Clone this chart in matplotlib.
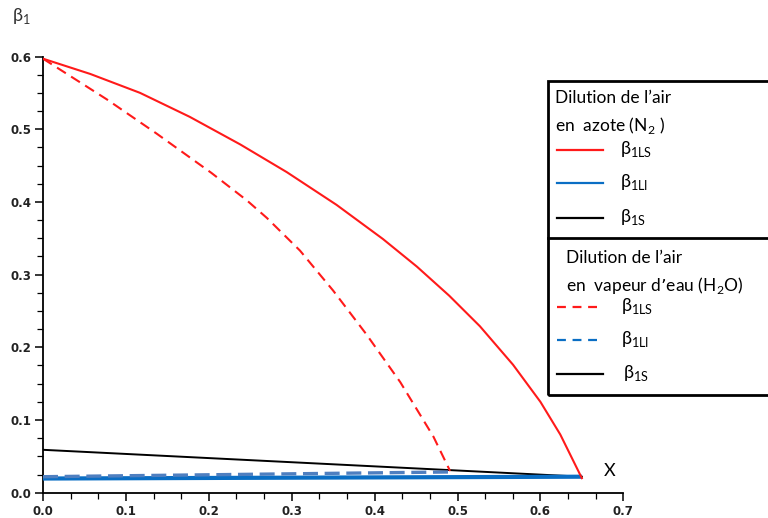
import matplotlib
matplotlib.use("Agg")
import matplotlib.pyplot as plt
from matplotlib.lines import Line2D
from matplotlib.patches import Rectangle
from matplotlib.ticker import MultipleLocator

# ---- data ----
x_ls_n2 = [0.0, 0.057, 0.117, 0.177, 0.238, 0.294, 0.354, 0.41, 0.451, 0.49, 0.527, 0.567, 0.60, 0.624, 0.65]
y_ls_n2 = [0.597, 0.576, 0.550, 0.517, 0.479, 0.441, 0.396, 0.349, 0.311, 0.271, 0.229, 0.176, 0.125, 0.080, 0.020]

x_ls_h2o = [0.0, 0.077, 0.137, 0.203, 0.246, 0.27, 0.31, 0.35, 0.39, 0.431, 0.471, 0.491]
y_ls_h2o = [0.597, 0.541, 0.494, 0.440, 0.402, 0.378, 0.333, 0.278, 0.218, 0.152, 0.077, 0.030]

x_li_n2 = [0.0, 0.65]
y_li_n2 = [0.0195, 0.022]

x_li_h2o = [0.0, 0.49]
y_li_h2o = [0.022, 0.0285]

x_s = [0.0, 0.65]
y_s = [0.059, 0.022]

x_ticks = [0.0, 0.1, 0.2, 0.3, 0.4, 0.5, 0.6, 0.7]
y_ticks = [0.0, 0.1, 0.2, 0.3, 0.4, 0.5, 0.6]
x_ticklabels = ["0.0", "0.1", "0.2", "0.3", "0.4", "0.5", "0.6", "0.7"]
y_ticklabels = ["0.0", "0.1", "0.2", "0.3", "0.4", "0.5", "0.6"]

RED = "#ff1a1a"
BLUE = "#0a6ec4"
BLUE_D = "#4f7fc0"

W, H = 768, 518
fig = plt.figure(figsize=(W / 100, H / 100), dpi=100)

def fx(px):
    return px / W

def fy(py):
    return 1 - py / H

ax = fig.add_axes([fx(43), fy(492.7), (623.3 - 43) / W, (492.7 - 56.5) / H])
ax.set_xlim(0, 0.7)
ax.set_ylim(0, 0.6)

ax.plot(x_s, y_s, color="black", lw=1.4, zorder=3)
ax.plot(x_li_n2, y_li_n2, color=BLUE, lw=3.0, zorder=4, solid_capstyle="butt")
ax.plot(x_li_h2o, y_li_h2o, color=BLUE_D, lw=2.4, ls=(0, (4.5, 2)), zorder=4)
ax.plot(x_ls_n2, y_ls_n2, color=RED, lw=1.5, zorder=5, solid_joinstyle="round")
ax.plot(x_ls_h2o, y_ls_h2o, color=RED, lw=1.5, ls=(0, (5, 3)), zorder=5)

for s in ["top", "right"]:
    ax.spines[s].set_visible(False)
for s in ["left", "bottom"]:
    ax.spines[s].set_linewidth(1.3)
    ax.spines[s].set_color("black")

ax.set_xticks(x_ticks)
ax.set_xticklabels(x_ticklabels)
ax.set_yticks(y_ticks)
ax.set_yticklabels(y_ticklabels)
ax.xaxis.set_minor_locator(MultipleLocator(0.1 / 3))
ax.yaxis.set_minor_locator(MultipleLocator(0.025))
ax.tick_params(which="major", length=6, width=1.1, direction="out", labelsize=8.5,
               labelcolor="#222222", pad=2.5)
ax.tick_params(which="minor", length=4, width=0.9, direction="out")
for lab in ax.get_xticklabels() + ax.get_yticklabels():
    lab.set_fontweight("bold")
    lab.set_fontfamily("DejaVu Sans")

# axis labels
fig.text(fx(12), fy(16), r"β$_{\mathregular{1}}$", fontsize=13, color="#333333",
         ha="left", va="center", family="Lato")
fig.text(fx(610), fy(471), "X", fontsize=13, color="black", ha="center", va="center",
         family="Lato")

# ---- legend boxes ----
LF = "Lato"
fs = 12.5
fig.add_artist(Rectangle((fx(548), fy(395)), (820 - 548) / W, (395 - 81) / H,
                         transform=fig.transFigure, fill=False, lw=2.0, ec="black"))
fig.add_artist(Line2D([fx(548), fx(820)], [fy(237.5), fy(237.5)],
                      transform=fig.transFigure, color="black", lw=2.0))

fig.text(fx(555), fy(98), "Dilution de l’air", fontsize=fs, family=LF, va="center", ha="left")
fig.text(fx(555), fy(125), r"en  azote (N$_{\mathregular{2}}$ )", fontsize=fs, family=LF,
         va="center", ha="left")
fig.text(fx(566), fy(258), "Dilution de l’air", fontsize=fs, family=LF, va="center", ha="left")
fig.text(fx(566), fy(285), r"en  vapeur d’eau (H$_{\mathregular{2}}$O)", fontsize=fs,
         family=LF, va="center", ha="left")

entries = [
    (150, RED, "-", r"β$_{\mathregular{1LS}}$", 620),
    (183, BLUE, "-", r"β$_{\mathregular{1LI}}$", 620),
    (218, "black", "-", r"β$_{\mathregular{1S}}$", 620),
    (307, RED, (0, (4, 3)), r"β$_{\mathregular{1LS}}$", 621),
    (340, BLUE, (0, (4, 3)), r"β$_{\mathregular{1LI}}$", 621),
    (374, "black", "-", r"β$_{\mathregular{1S}}$", 623),
]
for yy, col, ls, lab, tx in entries:
    fig.add_artist(Line2D([fx(557), fx(603)], [fy(yy), fy(yy)], transform=fig.transFigure,
                          color=col, lw=1.6, ls=ls))
    fig.text(fx(tx), fy(yy - 1), lab, fontsize=13, family=LF, va="center", ha="left")

fig.savefig("out.png", dpi=100)
